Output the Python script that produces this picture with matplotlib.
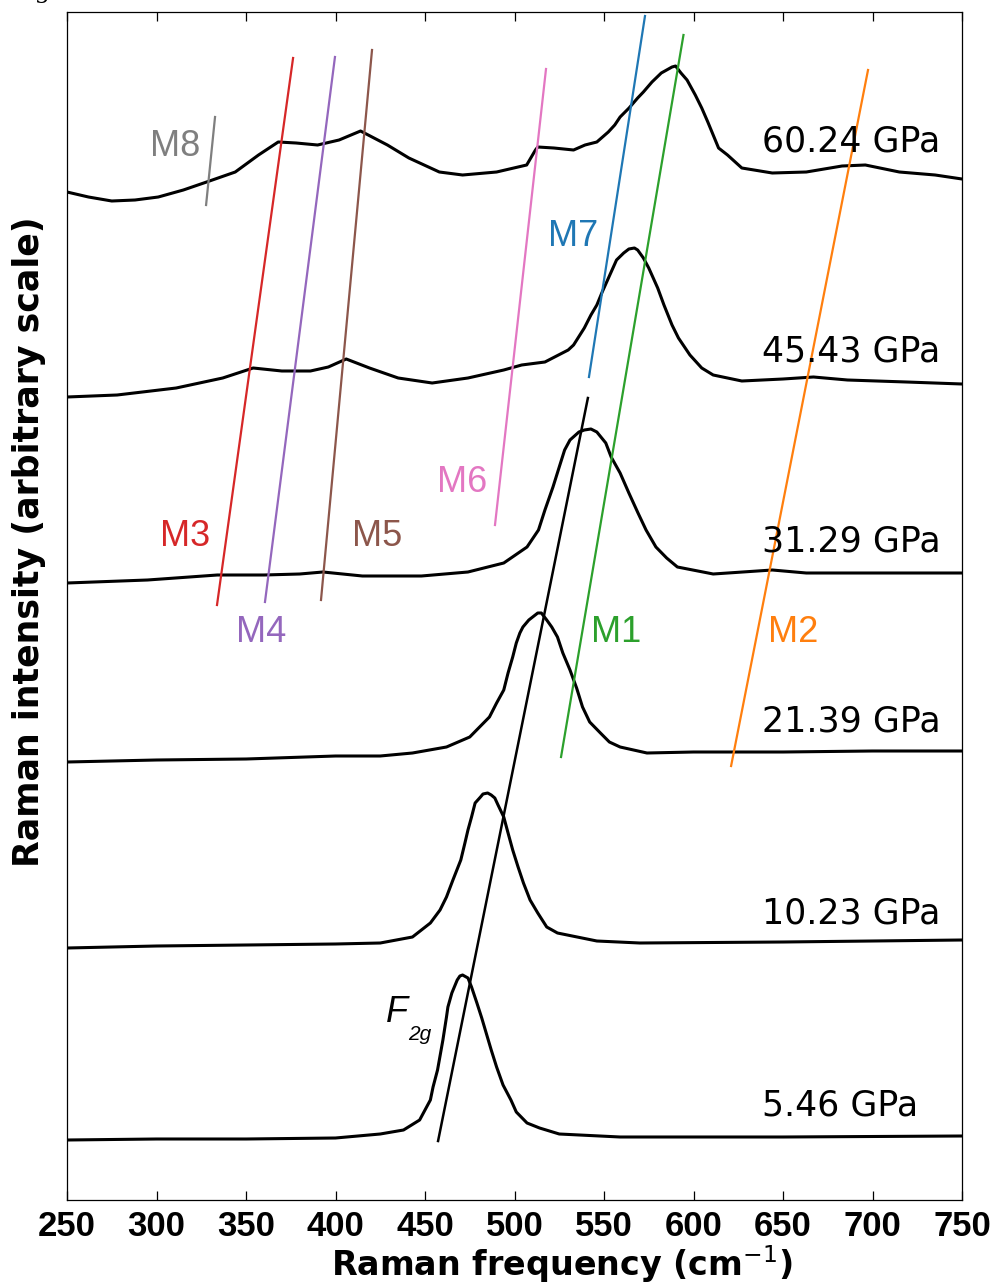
import numpy as np
import matplotlib
matplotlib.use('Agg')
import matplotlib.pyplot as plt

# Raman spectra (frequency in cm-1, stacked intensity in arbitrary units)
f_0546 = [250, 300, 350, 400, 425, 438, 447, 453, 454.5, 457, 460, 462, 462.8, 465, 468, 469.5,
          471, 474, 476, 479, 481.7, 487, 490, 493.6, 498, 501, 507, 514, 525, 559, 650, 750]
i_0546 = [60, 61, 61, 62, 66, 70, 80, 100, 113, 130, 160, 183, 193, 207, 220, 224,
          225, 222, 213, 197, 182, 150, 133, 115, 100, 88, 77, 72, 66, 63, 63, 64]

f_1023 = [250, 300, 350, 400, 425, 443, 453, 458.4, 462, 465.6, 470, 472.3, 474, 476, 478, 481,
          482.4, 485, 487, 489, 490.8, 494, 496.4, 499, 502, 505, 508.7, 513, 518, 524, 546, 570,
          650, 750]
i_1023 = [252, 254, 255, 256, 257, 263, 277, 290, 303, 320, 340, 357, 370, 383, 397, 403,
          406, 407, 405, 402, 395, 383, 367, 350, 333, 317, 300, 287, 273, 267, 259, 257,
          258, 260]

f_2139 = [250, 300, 350, 400, 425, 443, 462, 475, 486, 490, 494, 496.4, 499, 501, 503, 504.7,
          508, 513, 515, 518, 520.8, 524, 527, 531, 534.7, 538, 542, 548, 553, 559, 574, 600,
          650, 700, 750]
i_2139 = [438, 440, 441, 444, 444, 447, 453, 463, 483, 497, 510, 527, 543, 557, 567, 573,
          580, 587, 587, 580, 573, 563, 547, 530, 512, 493, 478, 467, 458, 453, 447, 448,
          448, 449, 449]

f_3129 = [250, 295, 334, 360, 380, 393, 415, 448, 474, 494, 507, 513.4, 517, 521.5, 525, 528,
          531, 536, 539, 542.7, 546, 551, 554, 559, 563.9, 569, 573.5, 579, 585, 591, 611, 644,
          663, 703, 750]
i_3129 = [617, 620, 625, 625, 626, 628, 624, 624, 628, 637, 653, 670, 690, 713, 733, 750,
          760, 768, 770, 771, 768, 757, 743, 727, 707, 687, 670, 653, 642, 633, 626, 630,
          627, 627, 627]

f_4543 = [250, 278, 311, 337, 354, 370, 386, 396, 406, 419, 435, 454, 474, 494, 504, 517,
          530, 533, 539, 542.7, 546, 549, 554, 557, 561, 563.9, 567, 568.8, 572, 575, 580, 583.5,
          588, 591.6, 598, 604.6, 611, 627, 650, 667, 686, 719, 750]
i_4543 = [803, 805, 812, 822, 832, 829, 829, 833, 841, 832, 822, 817, 822, 830, 835, 838,
          850, 855, 872, 885, 895, 908, 928, 940, 947, 951, 952, 950, 942, 932, 912, 895,
          875, 862, 845, 832, 825, 819, 821, 823, 820, 818, 816]

f_6024 = [250, 262, 275, 288, 301, 315, 328, 344, 357, 368, 378, 390, 402, 414, 429, 441,
          458, 471, 490, 506.8, 511.7, 513, 522, 533, 539.4, 546, 552.4, 556, 559, 564, 568.8, 572,
          576.8, 582, 585, 588, 590, 593, 596.4, 601, 604.6, 608, 611, 614, 619, 627, 644, 663,
          683, 696, 715, 735, 750]
i_6024 = [1008, 1003, 999, 1000, 1003, 1010, 1018, 1028, 1045, 1058, 1057, 1055, 1060, 1069, 1055, 1042,
          1028, 1025, 1028, 1035, 1050, 1053, 1052, 1050, 1055, 1058, 1068, 1075, 1083, 1092, 1102, 1108,
          1118, 1127, 1130, 1133, 1134, 1127, 1120, 1105, 1092, 1078, 1065, 1052, 1045, 1032, 1027, 1028,
          1034, 1035, 1028, 1025, 1021]

spectra = [(f_0546, i_0546), (f_1023, i_1023), (f_2139, i_2139),
           (f_3129, i_3129), (f_4543, i_4543), (f_6024, i_6024)]
pressures = ['5.46 GPa', '10.23 GPa', '21.39 GPa', '31.29 GPa', '45.43 GPa', '60.24 GPa']
pressure_y = [95, 286, 478, 658, 848, 1058]

# mode guide lines: (label, colour, (f_top, i_top), (f_bottom, i_bottom), label position)
modes = [
    ('M8', '#7f7f7f', (332.7, 1083), (327.7, 995), (310.3, 1053)),
    ('M3', '#d62728', (376.3, 1142), (333.8, 595), (315.9, 663)),
    ('M4', '#9467bd', (399.7, 1143), (360.6, 598), (358.4, 567)),
    ('M5', '#8c564b', (420.4, 1150), (391.9, 600), (423.2, 663)),
    ('M6', '#e377c2', (517.6, 1131), (489.1, 675), (470.7, 718)),
    ('M7', '#1f77b4', (572.9, 1184), (541.6, 823), (532.7, 963)),
    ('M1', '#2ca02c', (594.4, 1165), (526.0, 443), (556.7, 567)),
    ('M2', '#ff7f0e', (697.5, 1130), (621.0, 434), (655.6, 567)),
]
f2g_line = [(541.0, 802), (457.3, 59)]

W, H = 1001, 1285
fig = plt.figure(figsize=(W / 100, H / 100), dpi=100)
ax = fig.add_axes([67 / W, 85 / H, 895 / W, 1188 / H])

for f, i in spectra:
    ax.plot(f, i, color='black', lw=2.2, solid_joinstyle='round')

for lab, col, top, bot, pos in modes:
    ax.plot([bot[0], top[0]], [bot[1], top[1]], color=col, lw=1.6)
    ax.text(pos[0], pos[1], lab, color=col, fontsize=26, family='Liberation Sans',
            ha='center', va='center')

ax.plot([f2g_line[1][0], f2g_line[0][0]], [f2g_line[1][1], f2g_line[0][1]],
        color='black', lw=1.8)
ax.text(434.4, 187, 'F', fontsize=26, style='italic', family='Liberation Sans',
        ha='center', va='center')
ax.text(447.2, 166, '2g', fontsize=15, style='italic', family='Liberation Sans',
        ha='center', va='center')

for lab, y in zip(pressures, pressure_y):
    ax.text(638.3, y, lab, fontsize=25, family='DejaVu Sans', ha='left', va='center')

ax.set_xlim(250, 750)
ax.set_ylim(0, 1188)
ax.set_xticks(np.arange(250, 751, 50))
ax.set_yticks([])
ax.tick_params(axis='x', direction='in', length=6.5, width=0.9, top=True,
               labeltop=False, pad=7)
for lbl in ax.get_xticklabels():
    lbl.set_family('Liberation Sans')
    lbl.set_fontweight('bold')
    lbl.set_fontsize(25)
for s in ax.spines.values():
    s.set_linewidth(0.9)

fig.text(562 / W, 1 - 1276 / H, r'Raman frequency (cm$^{-1}$)', fontsize=24,
         fontweight='bold', family='DejaVu Sans', ha='center', va='baseline')
fig.text(29 / W, 1 - 542 / H, 'Raman intensity (arbitrary scale)', fontsize=25,
         fontweight='bold', family='DejaVu Sans', rotation=90, ha='center', va='center')
# tail of a caption letter sitting just above the frame
fig.text(44 / W, 1 + 3 / H, 'g', fontsize=20, family='Liberation Serif', style='italic',
         ha='center', va='baseline')

fig.savefig('out.png', dpi=100)
